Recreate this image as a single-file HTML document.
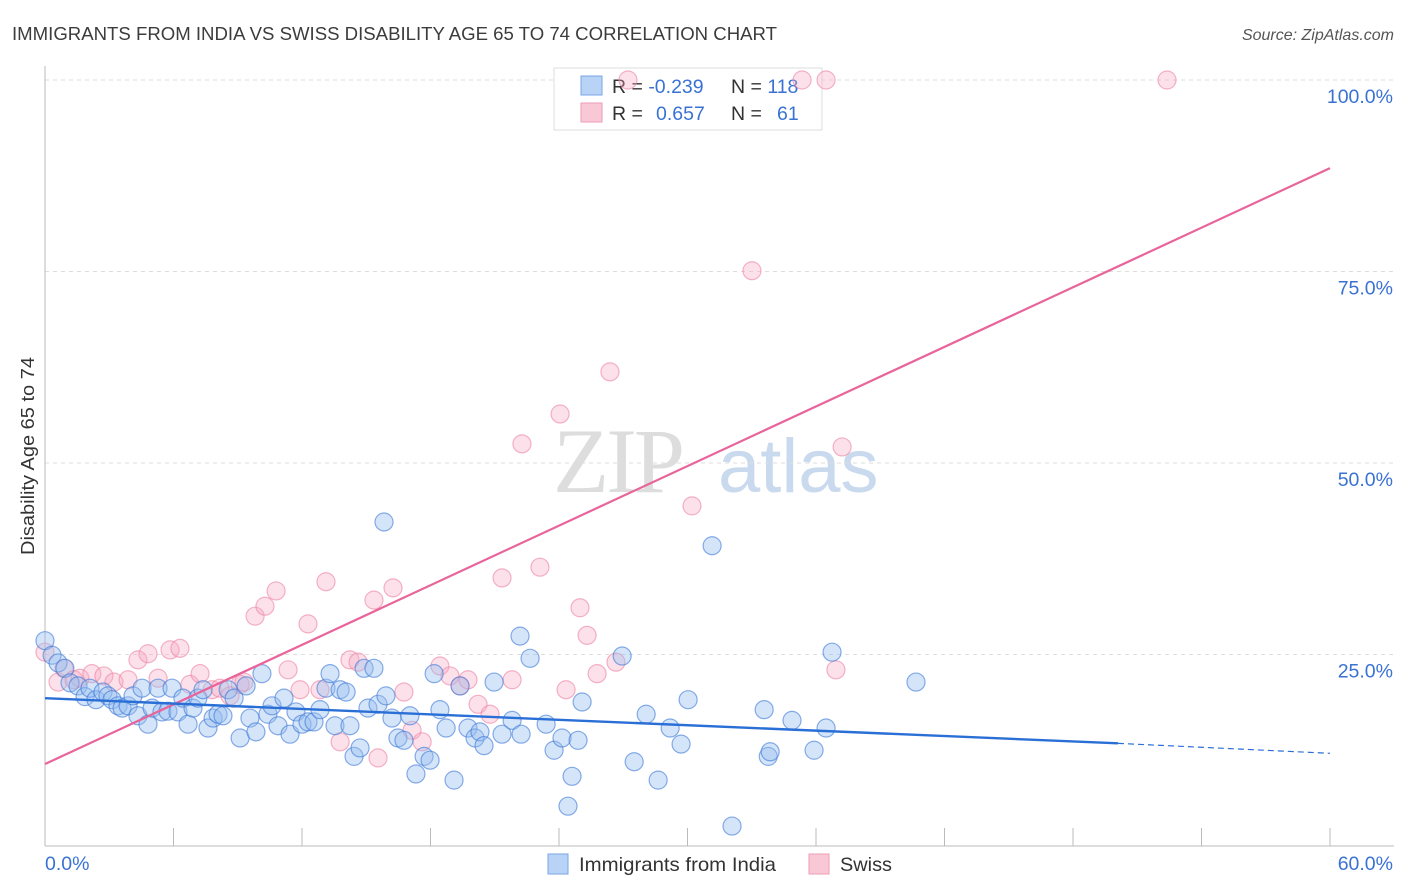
<!DOCTYPE html>
<html><head><meta charset="utf-8"><style>
body{margin:0;background:#fff;font-family:"Liberation Sans",sans-serif}
svg{display:block}
</style></head><body>
<svg id="chart" width="1406" height="892" font-family="Liberation Sans, sans-serif">
<text x="12" y="40" font-size="18" fill="#3c3c3c" textLength="765" lengthAdjust="spacingAndGlyphs">IMMIGRANTS FROM INDIA VS SWISS DISABILITY AGE 65 TO 74 CORRELATION CHART</text>
<text x="1394" y="40" font-size="16" fill="#555" font-style="italic" text-anchor="end">Source: ZipAtlas.com</text>
<text x="34" y="456" font-size="18.5" fill="#333" text-anchor="middle" textLength="198" lengthAdjust="spacingAndGlyphs" transform="rotate(-90 34 456)">Disability Age 65 to 74</text>
<g><text x="553" y="492" font-size="92" font-family="Liberation Serif, serif" fill="#ddd" letter-spacing="-3">ZIP</text><text x="718" y="492" font-size="76" fill="#c9d9ee">atlas</text></g>
<g id="grid"></g>
<g>
<rect x="554" y="68" width="268" height="62" fill="#fff" stroke="#ddd"/>
<rect x="581" y="76" width="21" height="19" fill="#b8d3f5" stroke="#7aa6e6"/>
<rect x="581" y="103" width="21" height="19" fill="#f9c8d6" stroke="#ee9db5"/>
<text x="612" y="93" font-size="19.5" fill="#333">R = <tspan fill="#3a72d4">-0.239</tspan><tspan x="731">N = </tspan><tspan fill="#3a72d4">118</tspan></text>
<text x="612" y="120" font-size="19.5" fill="#333">R = <tspan x="656" fill="#3a72d4">0.657</tspan><tspan x="731">N = </tspan><tspan x="777" fill="#3a72d4">61</tspan></text>
</g>
<g id="axes"></g><g id="pts"></g><g id="trends"></g>
<g>
<rect x="548" y="854" width="20" height="20" fill="#b8d3f5" stroke="#7aa6e6"/>
<text x="579" y="871" font-size="19.5" fill="#333" textLength="197" lengthAdjust="spacingAndGlyphs">Immigrants from India</text>
<rect x="809" y="854" width="20" height="20" fill="#f9c8d6" stroke="#ee9db5"/>
<text x="840" y="871" font-size="19.5" fill="#333" textLength="52" lengthAdjust="spacingAndGlyphs">Swiss</text>
</g>
</svg>
<script>
const yTicks=[25,50,75,100];
const yTickLabels=["25.0%","50.0%","75.0%","100.0%"];
const xTicks=[0,6,12,18,24,30,36,42,48,54,60];
const xEndLabels=["0.0%","60.0%"];
const indiaX=[0.0,0.33,0.61,0.93,1.17,1.54,1.87,2.10,2.38,2.71,2.94,3.13,3.41,3.60,3.88,4.11,4.34,4.53,4.81,5.00,5.28,5.46,5.74,5.93,6.21,6.44,6.68,6.91,7.14,7.38,7.61,7.85,8.08,8.31,8.55,8.83,9.11,9.39,9.57,9.85,10.13,10.41,10.60,10.88,11.16,11.44,11.72,12.00,12.28,12.56,12.84,13.12,13.31,13.54,13.78,14.06,14.24,14.43,14.71,14.90,15.08,15.36,15.55,15.83,15.92,16.20,16.48,16.76,17.04,17.32,17.70,17.98,18.17,18.44,18.73,19.10,19.38,19.75,20.08,20.31,20.50,20.97,21.34,21.81,22.18,22.23,22.65,23.40,23.77,24.14,24.42,24.61,24.89,25.08,26.95,27.51,28.07,28.63,29.19,29.70,30.03,31.15,32.08,33.58,33.77,33.86,34.88,35.91,36.47,36.75,40.67];
const indiaY=[26.8,24.9,23.9,23.2,21.3,20.9,19.5,20.6,19.1,20.1,19.6,19.1,18.3,18.0,18.3,19.6,17.0,20.6,15.9,18.0,20.6,17.5,17.6,20.6,17.5,19.3,15.9,18.0,19.3,20.4,15.4,16.7,17.2,17.0,20.4,19.3,14.1,20.9,16.7,14.9,22.5,17.2,18.3,15.7,19.3,14.6,17.5,15.9,16.2,16.2,17.8,20.6,22.5,15.7,20.4,20.1,15.7,11.7,12.8,23.2,18.0,23.2,18.5,42.3,19.6,16.7,14.1,13.8,17.0,9.4,11.7,11.2,22.5,17.8,15.4,8.6,20.9,15.4,14.1,14.9,13.1,21.4,14.6,16.4,27.4,14.6,24.5,15.9,12.5,14.1,5.2,9.1,13.8,18.8,24.8,11.0,17.2,8.6,15.4,13.3,19.1,39.2,2.6,17.8,11.7,12.3,16.4,12.5,15.4,25.3,21.4];
const swissX=[0,0.61,0.89,1.35,1.63,2.19,2.75,3.22,3.88,4.34,4.81,5.28,5.84,6.30,6.77,7.24,7.80,8.17,8.64,9.11,9.29,9.81,10.27,10.79,11.35,11.91,12.28,12.84,13.12,13.78,14.24,14.62,15.36,15.55,16.25,16.76,17.14,17.61,18.44,18.91,19.38,19.75,20.22,20.78,21.34,21.81,22.27,23.11,24.05,24.33,24.98,25.31,25.78,26.38,26.66,27.22,30.21,33.01,35.35,36.47,36.93,37.22,52.39];
const swissY=[25.3,21.4,23.2,21.7,21.9,22.5,22.2,21.4,21.7,24.3,25.1,21.9,25.6,25.8,21.1,22.5,20.4,20.6,19.6,21.1,21.4,30.0,31.3,33.3,23.0,20.4,29.0,20.4,34.5,13.6,24.3,24.0,32.1,11.5,33.7,20.1,15.1,13.6,23.5,22.2,20.9,21.7,18.5,17.2,35.0,21.7,52.5,36.4,56.4,20.4,31.1,27.5,22.5,61.9,24.0,100,44.4,75.1,100,100,23.0,52.1,100];
const indiaTrend=[19.3,13.4,12.1];
const indiaTrendX=[0,50.1,60];
const swissTrend=[10.7,88.5];
const swissTrendX=[0,60];

const NS="http://www.w3.org/2000/svg";
const X=v=>45+v/60*1285, Y=v=>846-v/100*766;
function mk(tag,attrs,parent){const e=document.createElementNS(NS,tag);for(const k in attrs)e.setAttribute(k,attrs[k]);parent.appendChild(e);return e;}
const grid=document.getElementById('grid'),axes=document.getElementById('axes'),pts=document.getElementById('pts'),tr=document.getElementById('trends');
yTicks.forEach((t,i)=>{
 const l=mk('line',{x1:45,x2:1394,y1:Y(t),y2:Y(t),stroke:'#ddd','stroke-dasharray':'4,4'},grid);
 
 
 const tx=mk('text',{x:1393,y:Y(t)+23,'font-size':19.5,fill:'#3a72d4','text-anchor':'end'},axes);
 tx.textContent=yTickLabels[i];
 
 
});
const ax=mk('line',{x1:45,x2:1394,y1:846,y2:846,stroke:'#bbb'},axes);


const ay=mk('line',{x1:45,x2:45,y1:66,y2:846,stroke:'#bbb'},axes);


xTicks.forEach(t=>{const l=mk('line',{x1:X(t),x2:X(t),y1:828,y2:846,stroke:'#bbb'},axes);
 
 });
const xl0=mk('text',{x:45,y:870,'font-size':19.5,fill:'#3a72d4'},axes);xl0.textContent=xEndLabels[0];


const xl1=mk('text',{x:1393,y:870,'font-size':19.5,fill:'#3a72d4','text-anchor':'end'},axes);xl1.textContent=xEndLabels[1];


swissX.forEach((x,i)=>{const c=mk('circle',{cx:X(x),cy:Y(swissY[i]),r:9,fill:'rgba(246,170,195,0.35)',stroke:'rgba(236,130,162,0.6)','stroke-width':1.2},pts);
 
 });
indiaX.forEach((x,i)=>{const c=mk('circle',{cx:X(x),cy:Y(indiaY[i]),r:9,fill:'rgba(150,190,240,0.4)',stroke:'rgba(60,120,215,0.6)','stroke-width':1.2},pts);
 
 });
const pl=mk('line',{x1:X(swissTrendX[0]),y1:Y(swissTrend[0]),x2:X(swissTrendX[1]),y2:Y(swissTrend[1]),stroke:'#e8649a','stroke-width':2.2},tr);


const bl=mk('line',{x1:X(indiaTrendX[0]),y1:Y(indiaTrend[0]),x2:X(indiaTrendX[1]),y2:Y(indiaTrend[1]),stroke:'#2a6fd6','stroke-width':2.4},tr);


const bd=mk('line',{x1:X(indiaTrendX[1]),y1:Y(indiaTrend[1]),x2:X(indiaTrendX[2]),y2:Y(indiaTrend[2]),stroke:'#2a6fd6','stroke-width':1.2,'stroke-dasharray':'6,4'},tr);


</script>
</body></html>
